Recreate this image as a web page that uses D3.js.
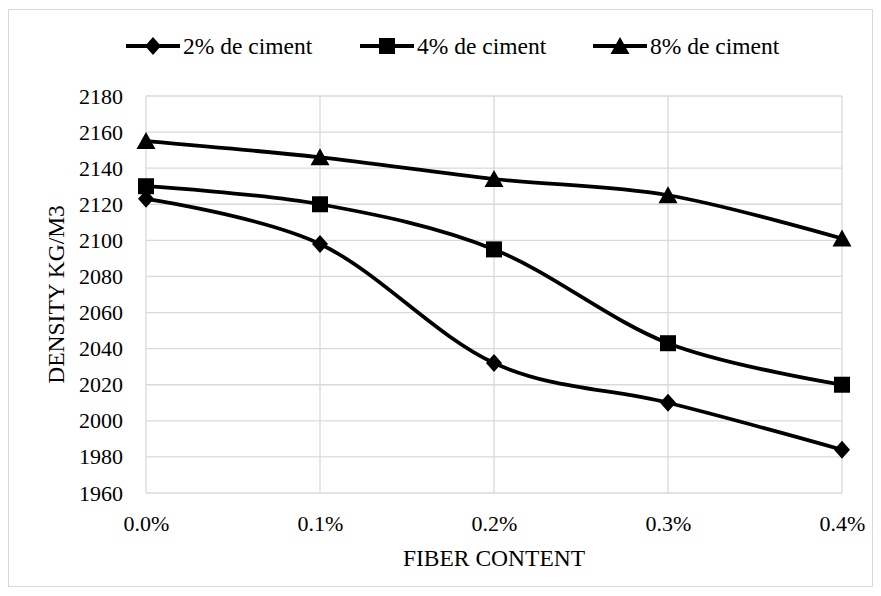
<!DOCTYPE html>
<html>
<head>
<meta charset="utf-8">
<script src="https://cdn.jsdelivr.net/npm/d3@7"></script>
<style>
  html, body { margin: 0; padding: 0; background: #ffffff; }
  svg { display: block; }
  svg text { font-family: "Times New Roman", "Liberation Serif", "DejaVu Serif", serif !important; fill: #000; }
</style>
</head>
<body>
<svg id="chart" width="881" height="596"></svg>
<script>
// Fiber content levels (x categories)
const fiberLevels = ["0.0%", "0.1%", "0.2%", "0.3%", "0.4%"];

// Dry density (kg/m3) per cement content
const cement2 = [2123, 2098, 2032, 2010, 1984];
const cement4 = [2130, 2120, 2095, 2043, 2020];
const cement8 = [2155, 2146, 2134, 2125, 2101];

const seriesNames = ["2% de ciment", "4% de ciment", "8% de ciment"];
const seriesSymbols = ["diamond", "square", "triangle"];

const yTicks = [1960, 1980, 2000, 2020, 2040, 2060, 2080, 2100, 2120, 2140, 2160, 2180];

const series = [
  { name: seriesNames[0], values: cement2, symbol: seriesSymbols[0] },
  { name: seriesNames[1], values: cement4, symbol: seriesSymbols[1] },
  { name: seriesNames[2], values: cement8, symbol: seriesSymbols[2] }
];

const FONT = '"Times New Roman", "Liberation Serif", "DejaVu Serif", serif';

const svg = d3.select("#chart");
const W = 881, H = 596;
const plot = { left: 146, right: 842, top: 96, bottom: 493 };

// outer chart frame
svg.append("rect")
  .attr("x", 8.5).attr("y", 9.5)
  .attr("width", W - 17).attr("height", H - 19)
  .attr("fill", "#fff").attr("stroke", "#d9d9d9").attr("stroke-width", 1);

const x = d3.scalePoint().domain(fiberLevels).range([plot.left, plot.right]);
const y = d3.scaleLinear().domain([1960, 2180]).range([plot.bottom, plot.top]);

// horizontal gridlines
svg.append("g")
  .selectAll("line").data(yTicks).join("line")
  .attr("x1", plot.left).attr("x2", plot.right)
  .attr("y1", d => y(d)).attr("y2", d => y(d))
  .attr("stroke", "#d9d9d9").attr("stroke-width", 1.3);

// vertical gridlines at each category
svg.append("g")
  .selectAll("line").data(fiberLevels).join("line")
  .attr("x1", d => x(d)).attr("x2", d => x(d))
  .attr("y1", plot.top).attr("y2", plot.bottom)
  .attr("stroke", "#d9d9d9").attr("stroke-width", 1.3);

// y axis labels
const yAxis = d3.axisLeft(y).tickValues(yTicks).tickSize(0).tickPadding(23).tickFormat(d3.format("d"));
const gy = svg.append("g").attr("transform", `translate(${plot.left},0)`).call(yAxis)
  .attr("font-family", FONT);
gy.select(".domain").remove();
gy.selectAll("text").attr("font-size", 22).style("font-family", FONT).attr("fill", "#000");

// x axis labels
const xAxis = d3.axisBottom(x).tickSize(0).tickPadding(22);
const gx = svg.append("g").attr("transform", `translate(0,${plot.bottom})`).call(xAxis)
  .attr("font-family", FONT);
gx.select(".domain").remove();
gx.selectAll("text").attr("font-size", 22).style("font-family", FONT).attr("fill", "#000");

// axis titles
svg.append("text")
  .attr("x", (plot.left + plot.right) / 2).attr("y", 566)
  .attr("text-anchor", "middle").attr("font-size", 23.5)
  .style("font-family", FONT)
  .text("FIBER CONTENT");

svg.append("text")
  .attr("transform", `translate(64,${(plot.top + plot.bottom) / 2}) rotate(-90)`)
  .attr("text-anchor", "middle").attr("font-size", 23.5)
  .style("font-family", FONT)
  .text("DENSITY KG/M3");

// marker shapes (centred on the data point)
const markerTypes = {
  diamond: { draw(ctx) { ctx.moveTo(0, -9); ctx.lineTo(8, 0); ctx.lineTo(0, 9); ctx.lineTo(-8, 0); ctx.closePath(); } },
  square: { draw(ctx) { ctx.rect(-8, -8, 16, 16); } },
  triangle: { draw(ctx) { ctx.moveTo(0, -9); ctx.lineTo(9.5, 8); ctx.lineTo(-9.5, 8); ctx.closePath(); } }
};
const symbolPath = s => d3.symbol().type(markerTypes[s])();

const line = d3.line()
  .x((d, i) => x(fiberLevels[i]))
  .y(d => y(d))
  .curve(d3.curveCardinal.tension(0));

const gSeries = svg.append("g").selectAll("g").data(series).join("g");

gSeries.append("path")
  .attr("d", d => line(d.values))
  .attr("fill", "none").attr("stroke", "#000").attr("stroke-width", 3.75)
  .attr("stroke-linejoin", "round");

gSeries.each(function (s) {
  d3.select(this).selectAll("path.marker").data(s.values).join("path")
    .attr("class", "marker")
    .attr("d", symbolPath(s.symbol))
    .attr("transform", (v, i) => `translate(${x(fiberLevels[i])},${y(v)})`)
    .attr("fill", "#000");
});

// legend
const legendX = [126, 360, 593];
const legendY = 46;
const lg = svg.append("g").selectAll("g").data(series).join("g")
  .attr("transform", (d, i) => `translate(${legendX[i]},${legendY})`);
lg.append("line").attr("x1", 0).attr("x2", 54).attr("y1", 0).attr("y2", 0)
  .attr("stroke", "#000").attr("stroke-width", 4);
lg.append("path")
  .attr("d", d => symbolPath(d.symbol))
  .attr("transform", "translate(27,0)")
  .attr("fill", "#000");
lg.append("text")
  .attr("x", 57).attr("y", 0).attr("dy", "0.35em")
  .attr("font-size", 23.5)
  .style("font-family", FONT)
  .text(d => d.name);
</script>
</body>
</html>
